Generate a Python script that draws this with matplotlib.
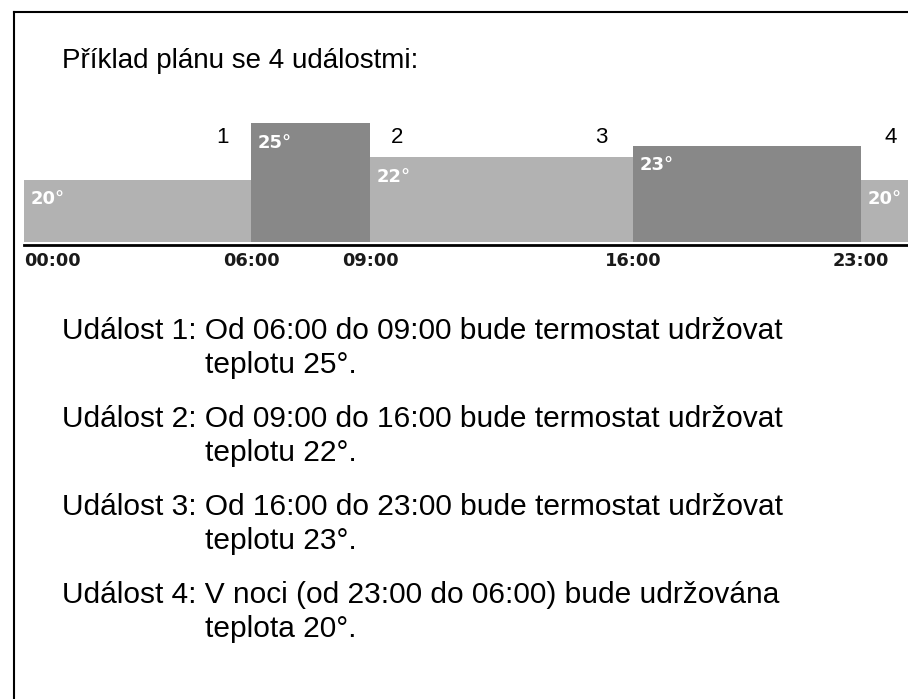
import numpy as np
import matplotlib
matplotlib.use("Agg")
import matplotlib.pyplot as plt
from matplotlib.lines import Line2D

# schedule data
starts = [0, 6, 9, 16, 23]
ends = [6, 9, 16, 23, 24]
temps = [20, 25, 22, 23, 20]
event_nums = ["1", "2", "3", "4"]
tick_hours = [0, 6, 9, 16, 23]
tick_labels = ["00:00", "06:00", "09:00", "16:00", "23:00"]
title = "Příklad plánu se 4 událostmi:"
events = [
    ("Událost 1: Od 06:00 do 09:00 bude termostat udržovat", "teplotu 25°."),
    ("Událost 2: Od 09:00 do 16:00 bude termostat udržovat", "teplotu 22°."),
    ("Událost 3: Od 16:00 do 23:00 bude termostat udržovat", "teplotu 23°."),
    ("Událost 4: V noci (od 23:00 do 06:00) bude udržována", "teplota 20°."),
]

W, H = 908, 699
light = "#b2b2b2"
dark = "#888888"
body_font = ["Liberation Sans", "DejaVu Sans"]

def px(x, y):
    return x / W, 1 - y / H

# the time axis in the schematic is not drawn to scale
hour_bp = [0, 6, 9, 16, 23, 24]
pos_bp = [0, 227, 346, 609, 837, 884]

def fwd(h):
    return np.interp(h, hour_bp, pos_bp)

def inv(p):
    return np.interp(p, pos_bp, hour_bp)

fig = plt.figure(figsize=(W / 100, H / 100), dpi=100)
ax = fig.add_axes([24 / W, (H - 241.5) / H, 884 / W, 141.5 / H])
ax.set_xscale("function", functions=(fwd, inv))

base = 14.49
colors = [light, dark, light, dark, light]
widths = [e - s for s, e in zip(starts, ends)]
heights = [t - base for t in temps]
ax.bar(starts, heights, width=widths, bottom=base, align="edge",
       color=colors, edgecolor="none")

for s, t in zip(starts, temps):
    ax.annotate(f"{t}°", xy=(s, t), xytext=(4.5, -7.5), textcoords="offset points",
                ha="left", va="top", color="white", fontsize=13,
                fontweight="bold", family="DejaVu Sans")

ax.set_xlim(0, 24)
ax.set_ylim(base, base + 141.5 / 11.23)
for side in ["top", "right", "left"]:
    ax.spines[side].set_visible(False)
ax.spines["bottom"].set_linewidth(2)
ax.spines["bottom"].set_position(("outward", 2.3))
ax.set_yticks([])
ax.set_xticks(tick_hours)
ax.set_xticklabels(tick_labels, fontsize=12.8, fontweight="bold", family="DejaVu Sans",
                   color="#1a1a1a")
ax.xaxis.get_ticklabels()[0].set_horizontalalignment("left")
ax.tick_params(axis="x", length=0, pad=5)

# event numbers above the bars
num_x = [223, 397, 601, 891]
for n, x in zip(event_nums, num_x):
    fig.text(*px(x, 143), n, ha="center", va="baseline", fontsize=16, family=body_font)

fig.text(*px(62, 68), title, ha="left", va="baseline", fontsize=20, family=body_font)

for i, (line1, line2) in enumerate(events):
    y = 339 + 88 * i
    fig.text(*px(62, y), line1, ha="left", va="baseline", fontsize=21.5, family=body_font)
    fig.text(*px(205, y + 34), line2, ha="left", va="baseline", fontsize=21.5, family=body_font)

# frame
fig.add_artist(Line2D([14 / W, 14 / W], [0, 1 - 12 / H], color="black", lw=1.5,
                      transform=fig.transFigure))
fig.add_artist(Line2D([14 / W, 1], [1 - 12 / H, 1 - 12 / H], color="black", lw=1.5,
                      transform=fig.transFigure))

fig.savefig("out.png", dpi=100)
